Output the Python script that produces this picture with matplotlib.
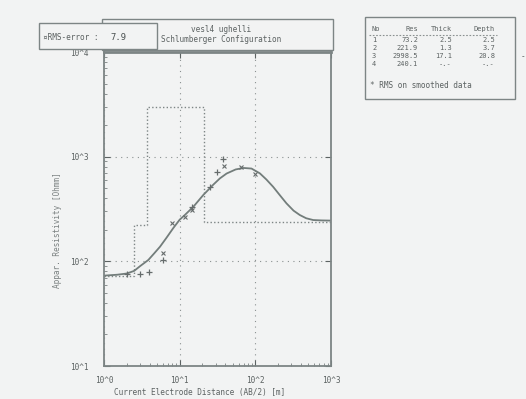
import matplotlib
matplotlib.use('Agg')
import matplotlib.pyplot as plt
from matplotlib.patches import Rectangle
from matplotlib.lines import Line2D

# smooth model curve
curve_x = [1, 1.5, 2, 2.5, 3, 3.85, 4.6, 5.5, 6.7, 8.2, 10, 11.7, 15.1, 20.5, 27.8, 34, 41.7, 55, 70, 89, 115, 140, 172, 210, 258, 320, 387, 470, 582, 750, 1000]
curve_y = [73, 74.5, 76.5, 81, 90, 103, 119, 138, 168, 207, 250, 277, 331, 430, 540, 620, 690, 755, 780, 770, 692, 605, 515, 430, 358, 305, 277, 258, 248, 246, 245]

# field data (two symbols)
plus_x = [2.0, 3.0, 3.97, 5.96, 14.7, 25.1, 30.8, 37.7]
plus_y = [76, 75.7, 79.6, 103, 327, 515, 718, 942]
cross_x = [5.96, 7.8, 11.7, 14.7, 38.5, 64, 99]
cross_y = [119, 231, 267, 309, 818, 802, 682]

# layer model
layer_no = ['1', '2', '3', '4']
layer_res = [73.2, 221.9, 2998.5, 240.1]
layer_thick = ['2.5', '1.3', '17.1', '-.-']
layer_depth = ['2.5', '3.7', '20.8', '-.-']
depths = [2.5, 3.7, 20.8]

xticks = [1, 10, 100, 1000]
xlabels = ['10^0', '10^1', '10^2', '10^3']
yticks = [10, 100, 1000, 10000]
ylabels = ['10^1', '10^2', '10^3', '10^4']

bg = '#f2f3f3'
ink = '#5c6262'
mono = 'DejaVu Sans Mono'
fs = 5.6

fig = plt.figure(figsize=(5.26, 3.99), dpi=100, facecolor=bg)
ax = fig.add_axes([104 / 526, 1 - 366 / 399, 227 / 526, 314 / 399], facecolor=bg)

# step model
step_x = [1] + depths + [1000]
step_y = layer_res + [layer_res[-1]]
ax.step(step_x, step_y, where='post', ls=(0, (1, 1.6)), color='#7d8585', lw=1.0)

ax.plot(curve_x, curve_y, color='#737d7b', lw=1.3)
ax.plot(plus_x, plus_y, ls='none', marker='+', ms=5, mew=0.9, color='#666c6c')
ax.plot(cross_x, cross_y, ls='none', marker='x', ms=3.5, mew=0.8, color='#666c6c')

ax.set_xscale('log')
ax.set_yscale('log')
ax.set_xlim(1, 1000)
ax.set_ylim(10, 10000)
ax.set_xticks(xticks)
ax.set_xticklabels(xlabels)
ax.set_yticks(yticks)
ax.set_yticklabels(ylabels)
ax.tick_params(which='major', direction='in', length=4, width=0.8, color=ink,
               top=True, right=True, labelsize=fs, labelcolor=ink)
ax.tick_params(axis='x', which='major', pad=7)
ax.tick_params(axis='y', which='major', pad=11)
ax.tick_params(which='minor', direction='in', length=2.5, width=0.7, color='#8a9090')
for lab in ax.get_xticklabels() + ax.get_yticklabels():
    lab.set_family(mono)
ax.grid(True, which='major', ls=(0, (1, 4)), color='#8a9090', lw=0.8)
for s in ax.spines.values():
    s.set_color('#7d8585')
    s.set_linewidth(1.3)
ax.spines['top'].set_linewidth(2.0)

fig.text(200 / 526, 1 - 393 / 399, 'Current Electrode Distance (AB/2) [m]',
         family=mono, fontsize=fs, color=ink, ha='center', va='center')
fig.text(57 / 526, 1 - 230 / 399, 'Appar. Resistivity [Ohmm]', rotation=90,
         family=mono, fontsize=fs, color='#7a8080', ha='center', va='center')

# header boxes
def box(x0, y0, x1, y1):
    fig.patches.append(Rectangle((x0 / 526, 1 - y1 / 399), (x1 - x0) / 526, (y1 - y0) / 399,
                                 transform=fig.transFigure, facecolor=bg,
                                 edgecolor='#7d8585', lw=1.0))

box(102, 19, 333, 50)
box(39, 23, 157, 49)
fig.text(221 / 526, 1 - 30 / 399, 'vesl4 ughelli', family=mono, fontsize=fs,
         color=ink, ha='center', va='center')
fig.text(221 / 526, 1 - 39.5 / 399, 'Schlumberger Configuration', family=mono,
         fontsize=fs, color=ink, ha='center', va='center')
fig.text(43 / 526, 1 - 37 / 399, '¤RMS-error :', family=mono, fontsize=fs,
         color=ink, ha='left', va='center')
fig.text(110 / 526, 1 - 37 / 399, '7.9', family=mono, fontsize=fs + 0.8,
         color='#4a5050', ha='left', va='center')

# layer table
tfs = 5.0
box(365, 17, 515, 99)
fig.text(371 / 526, 1 - 29 / 399, 'No', family=mono, fontsize=tfs, color=ink, va='center')
fig.text(418 / 526, 1 - 29 / 399, 'Res', family=mono, fontsize=tfs, color=ink, va='center', ha='right')
fig.text(452 / 526, 1 - 29 / 399, 'Thick', family=mono, fontsize=tfs, color=ink, va='center', ha='right')
fig.text(495 / 526, 1 - 29 / 399, 'Depth', family=mono, fontsize=tfs, color=ink, va='center', ha='right')
fig.lines.append(Line2D([369 / 526, 497 / 526], [1 - 35 / 399, 1 - 35 / 399],
                        transform=fig.transFigure, color='#8a9090', lw=0.8, ls=(0, (1.5, 1.5))))
for i in range(len(layer_no)):
    yy = 1 - (40.5 + 7.8 * i) / 399
    fig.text(372 / 526, yy, layer_no[i], family=mono, fontsize=tfs, color=ink, va='center')
    fig.text(418 / 526, yy, f'{layer_res[i]:.1f}', family=mono, fontsize=tfs, color=ink, va='center', ha='right')
    fig.text(452 / 526, yy, layer_thick[i], family=mono, fontsize=tfs, color=ink, va='center', ha='right')
    fig.text(495 / 526, yy, layer_depth[i], family=mono, fontsize=tfs, color=ink, va='center', ha='right')
fig.text(370 / 526, 1 - 86 / 399, '* RMS on smoothed data', family=mono, fontsize=fs,
         color=ink, va='center')
fig.text(521 / 526, 1 - 57 / 399, '-', family=mono, fontsize=fs, color=ink, va='center')

fig.savefig('out.png', dpi=100, facecolor=bg)
